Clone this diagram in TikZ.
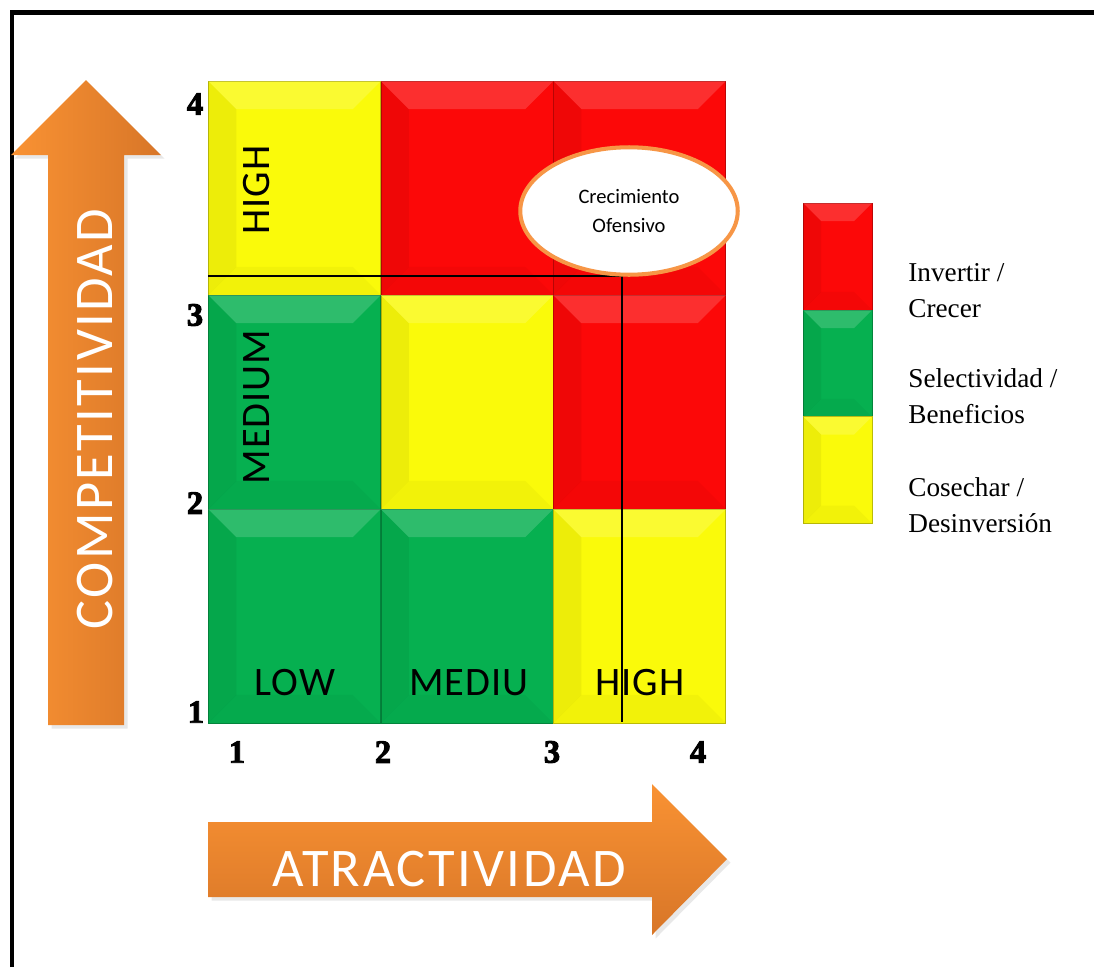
\documentclass[tikz,border=0pt]{standalone}
\usepackage{fontspec}
\setmainfont{Liberation Serif}
\newfontfamily\calib{Carlito}
\newfontfamily\calibwide[LetterSpace=4.5]{Carlito}
\newfontfamily\calibmid[LetterSpace=2.5]{Carlito}
\newfontfamily\numfont[BoldFeatures={FakeBold=3}]{Liberation Serif}
\usetikzlibrary{shapes.geometric,shadows}

\definecolor{cellred}{RGB}{252,8,8}
\definecolor{cellyellow}{RGB}{250,250,10}
\definecolor{cellgreen}{RGB}{6,176,80}
\definecolor{arrowlight}{RGB}{249,146,51}
\definecolor{arrowdark}{RGB}{216,118,40}
\definecolor{ringorange}{RGB}{247,150,70}

\tikzset{
  cell/.style={rectangle, fill=#1, draw=#1!75!black, line width=.3pt,
    minimum width=3.45cm, minimum height=4.28cm, inner sep=0pt, outer sep=0pt},
  legcell/.style={rectangle, fill=#1, draw=#1!75!black, line width=.3pt,
    minimum width=1.38cm, minimum height=2.14cm, inner sep=0pt, outer sep=0pt},
  soft/.style={drop shadow={opacity=.18, shadow xshift=2pt, shadow yshift=-2pt}},
  biglbl/.style={text=white, font=\calibwide\fontsize{31}{37}\selectfont, inner sep=0pt},
  lbl/.style={font=\calibmid\fontsize{23}{28}\selectfont, inner sep=0pt},
  num/.style={font=\numfont\bfseries\fontsize{18.5}{22}\selectfont, inner sep=0pt},
  legtxt/.style={font=\fontsize{15.5}{20.5}\selectfont, align=left, anchor=west, inner sep=0pt},
}

% bevel overlay: node name, bevel width
\newcommand{\bevel}[2]{%
  \fill[white, opacity=.16] (#1.north west) -- (#1.north east) -- ([shift={(-#2,#2)}]#1.north east) -- ([shift={(#2,#2)}]#1.north west) -- cycle;
  \fill[black, opacity=.05] (#1.north west) -- ([shift={(#2,#2)}]#1.north west) -- ([shift={(#2,-#2)}]#1.south west) -- (#1.south west) -- cycle;
  \fill[black, opacity=.03] (#1.south west) -- ([shift={(#2,-#2)}]#1.south west) -- ([shift={(-#2,-#2)}]#1.south east) -- (#1.south east) -- cycle;
}

\begin{document}
\begin{tikzpicture}[x=0.02cm, y=-0.02cm]
  \useasboundingbox (0,0) rectangle (1094,967);

  % frame
  \draw[line width=2.4pt] (12,967) -- (12,12.5) -- (1094,12.5);

  % arrows
  \path[soft, left color=arrowlight, right color=arrowdark]
    (48,725) -- (48,155) -- (11,155) -- (86,80) -- (161,155) -- (124,155) -- (124,725) -- cycle;
  \path[soft, top color=arrowlight, bottom color=arrowdark]
    (208,822) -- (652,822) -- (652,784) -- (727,859) -- (652,935) -- (652,897) -- (208,897) -- cycle;
  \node[biglbl, rotate=90] (compet) at (95,419) {COMPETITIVIDAD};
  \node[biglbl] (atract) at (449,869) {ATRACTIVIDAD};

  % matrix cells
  \node[cell=cellyellow] (c11) at (294.5,188) {};
  \node[cell=cellred]    (c12) at (467,188) {};
  \node[cell=cellred]    (c13) at (639.5,188) {};
  \node[cell=cellgreen]  (c21) at (294.5,402) {};
  \node[cell=cellyellow] (c22) at (467,402) {};
  \node[cell=cellred]    (c23) at (639.5,402) {};
  \node[cell=cellgreen]  (c31) at (294.5,616) {};
  \node[cell=cellgreen]  (c32) at (467,616) {};
  \node[cell=cellyellow] (c33) at (639.5,616) {};
  \bevel{c11}{28} \bevel{c12}{28} \bevel{c13}{28}
  \bevel{c21}{28} \bevel{c22}{28} \bevel{c23}{28}
  \bevel{c31}{28} \bevel{c32}{28} \bevel{c33}{28}

  \node[lbl, rotate=90] (high1) at (257,190) {HIGH};
  \node[lbl, rotate=90] (medium) at (257,407) {MEDIUM};
  \node[lbl] (low) at (295,683) {LOW};
  \node[lbl] (mediu) at (469,683) {MEDIU};
  \node[lbl] (high2) at (640,683) {HIGH};

  % axis numbers
  \node[num] (y4) at (195,104) {4};
  \node[num] (y3) at (195,315) {3};
  \node[num] (y2) at (195,503) {2};
  \node[num] (y1) at (196,712) {1};
  \node[num] (x1) at (237,752) {1};
  \node[num] (x2) at (383,752) {2};
  \node[num] (x3) at (552,752) {3};
  \node[num] (x4) at (698,752) {4};

  % cross lines
  \coordinate (hstart) at (208,276);
  \coordinate (cross) at (622,276);
  \coordinate (vend) at (622,722);
  \draw[line width=1.1pt] (hstart) -- (cross) -- (vend);

  \node[ellipse, draw=ringorange, line width=2.3pt, fill=white,
    minimum width=4.35cm, minimum height=2.55cm, align=center,
    font=\calib\fontsize{11.7}{17}\selectfont] (ofens) at (629,211) {Crecimiento\\Ofensivo};

  % legend
  \node[legcell=cellred]    (lred) at (837.5,256.5) {};
  \node[legcell=cellgreen]  (lgreen) at (837.5,363.5) {};
  \node[legcell=cellyellow] (lyellow) at (837.5,470) {};
  \bevel{lred}{18} \bevel{lgreen}{18} \bevel{lyellow}{18}
  \node[legtxt] (tred) at (908,291) {Invertir /\\Crecer};
  \node[legtxt] (tgreen) at (908,396) {Selectividad /\\Beneficios};
  \node[legtxt] (tyellow) at (908,505) {Cosechar /\\Desinversión};
\end{tikzpicture}
\end{document}
